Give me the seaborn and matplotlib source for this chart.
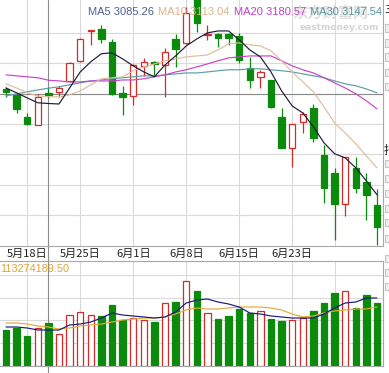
import numpy as np
import matplotlib
matplotlib.use("Agg")
import matplotlib.pyplot as plt
from matplotlib.patches import Rectangle
import seaborn as sns

# ---------------- data ----------------
tick_idx = [2, 7, 12, 17, 22, 27, 31]
date_labels = ["5月18日", "5月25日", "6月1日", "6月8日", "6月15日", "6月23日", ""]

open_ = [3145, 3121, 3030, 2997, 3127, 3133, 3178, 3261, 3384, 3392, 3339, 3129,
         3116, 3240, 3257, 3244, 3351, 3335, 3524, 3368, 3372, 3370, 3364, 3232,
         3195, 3182, 3030, 2902, 3009, 3067, 2873, 2799, 2671, 2820, 2762, 2667]
close = [3133, 3063, 3001, 3112, 3119, 3149, 3252, 3351, 3388, 3351, 3125, 3112,
         3244, 3257, 3248, 3298, 3310, 3458, 3417, 3372, 3355, 3355, 3265, 3182,
         3215, 3071, 2902, 3001, 3042, 2943, 2737, 2671, 2865, 2737, 2709, 2577]
high = [3154, 3129, 3046, 3125, 3154, 3158, 3257, 3355, 3389, 3409, 3351, 3158,
        3248, 3273, 3261, 3314, 3372, 3483, 3545, 3409, 3376, 3376, 3376, 3277,
        3224, 3182, 3067, 3001, 3051, 3083, 2915, 2820, 2865, 2865, 2799, 2733]
low = [3112, 3046, 2997, 2997, 3108, 3112, 3174, 3257, 3327, 3335, 3121, 3038,
       3079, 3199, 3199, 3112, 3236, 3331, 3380, 3347, 3318, 3327, 3252, 3149,
       3149, 3067, 2902, 2824, 2964, 2927, 2676, 2523, 2622, 2717, 2606, 2503]

ma5 = [3149, 3129, 3108, 3088, 3085, 3083, 3149, 3215, 3257, 3290, 3294, 3269,
       3240, 3215, 3195, 3244, 3281, 3322, 3351, 3376, 3384, 3384, 3347, 3306,
       3277, 3215, 3137, 3075, 3046, 2989, 2923, 2878, 2861, 2820, 2766, 2709]
ma10 = [3166, 3149, 3129, 3116, 3113, 3112, 3121, 3137, 3162, 3187, 3191, 3195,
        3220, 3236, 3248, 3261, 3269, 3277, 3281, 3285, 3306, 3331, 3335, 3327,
        3322, 3302, 3261, 3215, 3174, 3133, 3071, 3005, 2964, 2919, 2869, 2820]
ma20 = [3203, 3199, 3195, 3191, 3181, 3178, 3174, 3174, 3178, 3178, 3178, 3182,
        3182, 3187, 3195, 3203, 3215, 3224, 3236, 3248, 3261, 3273, 3277, 3281,
        3281, 3281, 3261, 3240, 3224, 3211, 3191, 3170, 3149, 3125, 3096, 3063]
ma30 = [3116, 3125, 3133, 3141, 3148, 3154, 3162, 3170, 3178, 3182, 3187, 3191,
        3195, 3199, 3199, 3203, 3207, 3211, 3211, 3215, 3220, 3224, 3224, 3228,
        3228, 3224, 3220, 3215, 3207, 3199, 3191, 3178, 3166, 3158, 3145, 3129]

# volume in millions
volume_m = [94.8, 100.1, 79.0, 100.1, 113.3, 84.3, 134.3, 142.2, 134.3, 131.7, 160.7, 121.2,
            126.4, 121.2, 115.9, 165.9, 168.6, 223.9, 197.6, 139.6, 123.8, 131.7, 150.1, 139.6,
            144.9, 123.8, 118.5, 121.2, 126.4, 144.9, 165.9, 192.3, 197.6, 152.8, 187.0, 165.9]
vol_ma5_m = [102.7, 102.7, 100.1, 94.8, 94.8, 94.8, 108.0, 110.6, 115.9, 126.4, 139.6, 134.3,
             131.7, 129.1, 126.4, 129.1, 142.2, 165.9, 173.8, 176.5, 168.6, 163.3, 155.4, 139.6,
             137.0, 131.7, 129.1, 126.4, 126.4, 126.4, 137.0, 152.8, 165.9, 168.6, 179.1, 179.1]
vol_ma10_m = [113.3, 113.3, 110.6, 105.4, 102.7, 97.5, 100.1, 105.4, 108.0, 110.6, 115.9, 121.2,
              123.8, 126.4, 126.4, 129.1, 137.0, 147.5, 152.8, 150.1, 150.1, 152.8, 155.4, 155.4,
              155.4, 152.8, 147.5, 137.0, 129.1, 131.7, 139.6, 144.9, 147.5, 150.1, 150.1, 155.4]

legend_texts = ["MA5 3085.26", "MA10 3113.04", "MA20 3180.57", "MA30 3147.54"]
volume_text = "113274189.50"
cursor_idx = 4
cursor_price = 3125
price_grid = [2625, 2750, 2875, 3000, 3125, 3250, 3375]
vol_grid = [60, 120, 180, 240]

# ---------------- style ----------------
sns.set_theme(style="white")
plt.rcParams["font.family"] = ["Noto Sans CJK SC", "DejaVu Sans"]

RED = "#d42a2a"
GREEN = "#0c8a0c"
C_MA5 = "#1c1c3a"
C_MA10 = "#dfbd9c"
C_MA20 = "#c644c8"
C_MA30 = "#5a9ea8"
GRID = "#dadada"
SPINE = "#a8a8a8"
CROSS = "#8a8a8a"

W, H = 389, 373
fig = plt.figure(figsize=(W / 100, H / 100), dpi=100)
fig.patch.set_facecolor("white")

ax = fig.add_axes([0, (H - 245.5) / H, 383 / W, 245.5 / H])
axv = fig.add_axes([0, (H - 366) / H, 383 / W, 105 / H])

n = len(open_)
idx = np.arange(n)
o = np.array(open_, float)
c = np.array(close, float)
up = c >= o
edge_cols = [RED if u else GREEN for u in up]
face_cols = ["white" if u else GREEN for u in up]

# ---------------- main panel ----------------
ax.set_xlim(-0.566, 35.566)
ax.set_ylim(2500, 2500 + 245.5 * 4.12)

ax.set_yticks(price_grid)
ax.set_xticks(tick_idx, date_labels)
ax.grid(True, color=GRID, lw=0.8, zorder=0)
ax.set_axisbelow(True)
ax.tick_params(axis="both", length=0)
ax.tick_params(axis="y", labelleft=False)
ax.tick_params(axis="x", pad=2.5, labelsize=8, labelcolor="#222222")

ax.axhline(cursor_price, color=CROSS, lw=0.8, zorder=1)
ax.axvline(cursor_idx, ymin=-(261 - 245.5) / 245.5, ymax=1, color=CROSS, lw=0.8,
           zorder=1, clip_on=False)

ax.vlines(idx, low, high, colors=edge_cols, lw=0.9, zorder=2)
ax.bar(idx, np.abs(c - o), bottom=np.minimum(o, c), width=0.6,
       color=face_cols, edgecolor=edge_cols, linewidth=0.9, zorder=3)

for vals, col in [(ma30, C_MA30), (ma20, C_MA20), (ma10, C_MA10), (ma5, C_MA5)]:
    sns.lineplot(x=idx, y=vals, ax=ax, color=col, linewidth=0.85, legend=False, zorder=4)

ax.set_xlabel("")
ax.set_ylabel("")
for s in ["left", "top"]:
    ax.spines[s].set_visible(False)
for s in ["bottom", "right"]:
    ax.spines[s].set_color(SPINE)
    ax.spines[s].set_linewidth(0.8)
ax.set_facecolor("white")

# watermark
ax.text(292 / W, 1 - 13 / H, "东方财富网", transform=fig.transFigure, fontsize=11,
        color="#dedede", fontweight="bold", ha="left", va="center", zorder=0.5)
ax.text(300 / W, 1 - 28 / H, "eastmoney.com", transform=fig.transFigure, fontsize=6.5,
        color="#d4d4d4", fontweight="bold", ha="left", va="center", zorder=0.5,
        family="DejaVu Sans")

# ---------------- volume panel ----------------
axv.set_xlim(-0.566, 35.566)
axv.set_ylim(0, 105 * 2.634)
axv.set_yticks(vol_grid)
axv.set_xticks(tick_idx)
axv.grid(True, color=GRID, lw=0.8, zorder=0)
axv.set_axisbelow(True)
axv.tick_params(axis="both", length=0, labelleft=False, labelbottom=False)
axv.axvline(cursor_idx, ymin=-7 / 105, ymax=1, color=CROSS, lw=0.8, zorder=1, clip_on=False)

axv.bar(idx, volume_m, width=0.6, color=face_cols, edgecolor=edge_cols,
        linewidth=0.9, zorder=2)
sns.lineplot(x=idx, y=vol_ma10_m, ax=axv, color="#e2a93a", linewidth=0.85, legend=False, zorder=3)
sns.lineplot(x=idx, y=vol_ma5_m, ax=axv, color="#1a1a7e", linewidth=0.85, legend=False, zorder=3)
axv.set_xlabel("")
axv.set_ylabel("")
axv.spines["left"].set_visible(False)
for s in ["top", "bottom", "right"]:
    axv.spines[s].set_color(SPINE)
    axv.spines[s].set_linewidth(0.8)
axv.set_facecolor("white")

# ---------------- texts ----------------
leg_x = [88, 158, 234, 310]
leg_c = ["#4f5f95", "#ddb48a", "#c23fc6", "#5596a2"]
for t, xp, col in zip(legend_texts, leg_x, leg_c):
    fig.text(xp / W, 1 - 12 / H, t, color=col, fontsize=8, family="Liberation Sans",
             ha="left", va="center", zorder=10)

fig.text(0, 1 - 269 / H, volume_text, color="#e0a43a", fontsize=7.8,
         family="Liberation Sans", ha="left", va="center")

# right-hand UI strip
fig.text(384 / W, 1 - 10 / H, "三", fontsize=8, color="#222222", ha="left", va="center")
fig.text(384 / W, 1 - 150 / H, "指", fontsize=8.5, color="#222222", ha="left", va="center")
for yc in [28, 43, 57, 72, 86, 163, 178, 193, 208, 223, 238, 258, 272, 286]:
    fig.patches.append(Rectangle((385 / W, 1 - (yc + 3.5) / H), 7 / W, 7 / H,
                                 transform=fig.transFigure, facecolor="#f0f0f0",
                                 edgecolor="#c4c4c4", linewidth=0.8))

fig.savefig("out.png", dpi=100, facecolor="white")
